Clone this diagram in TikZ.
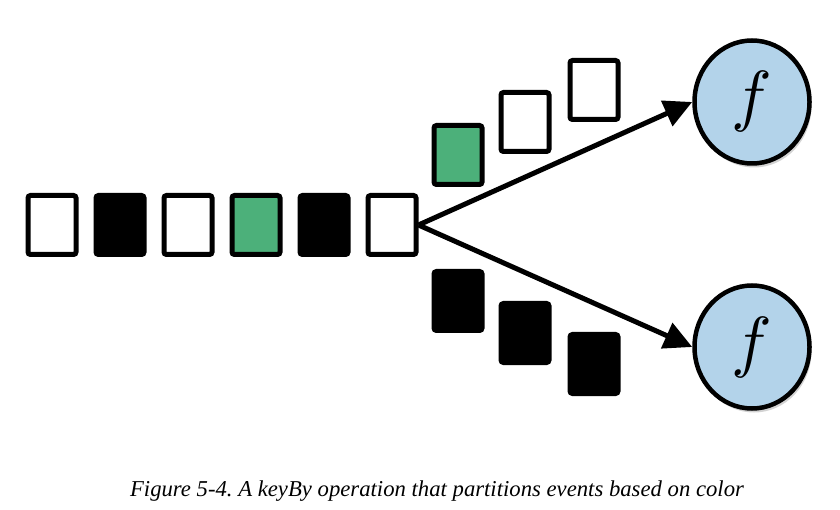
\documentclass[tikz,border=0pt]{standalone}
\usepackage{fontspec}
\usepackage{graphicx}
\setmainfont{Liberation Serif}
\usetikzlibrary{arrows.meta,shadows,shapes.geometric}
\definecolor{evgreen}{HTML}{4CB07A}
\definecolor{fblue}{HTML}{B3D3EA}
\tikzset{
  ev/.style={rectangle, rounded corners=2.5pt, line width=5pt, draw=black, minimum width=48pt, minimum height=59pt, inner sep=0pt},
  wev/.style={ev, fill=white},
  bev/.style={ev, fill=black},
  gev/.style={ev, fill=evgreen},
  fun/.style={ellipse, draw=black, line width=4.5pt, fill=fblue, minimum width=115pt, minimum height=123pt, inner sep=0pt,
    drop shadow={opacity=0.35, shadow xshift=2pt, shadow yshift=-4pt}},
  conn/.style={line width=5pt, -{Triangle[length=28pt,width=27pt]}}
}
\newcommand{\bigf}{\scalebox{6.8}{$f$}}
\frenchspacing
\begin{document}
\begin{tikzpicture}[x=1pt,y=-1pt]
\useasboundingbox (0,0) rectangle (840,510);
% input stream
\node[wev] (s1) at (52,225) {};
\node[bev] (s2) at (120,225) {};
\node[wev] (s3) at (188,225) {};
\node[gev] (s4) at (256,225) {};
\node[bev] (s5) at (324,225) {};
\node[wev] (s6) at (392,225) {};
% upper partition
\node[gev] (u1) at (458,155) {};
\node[wev] (u2) at (525,122) {};
\node[wev] (u3) at (594,90) {};
% lower partition
\node[bev] (l1) at (458,301) {};
\node[bev] (l2) at (525,333) {};
\node[bev] (l3) at (594,364) {};
% functions
\node[fun] (f1) at (752,102) {\bigf};
\node[fun] (f2) at (752,347) {\bigf};
% connectors
\draw[conn] (s6.east) -- (f1.west);
\draw[conn] (s6.east) -- (f2.west);
% caption
\node[font=\fontsize{22.7}{26}\selectfont\itshape] (cap) at (437,491) {Figure 5-4. A keyBy operation that partitions events based on color};
\end{tikzpicture}
\end{document}
